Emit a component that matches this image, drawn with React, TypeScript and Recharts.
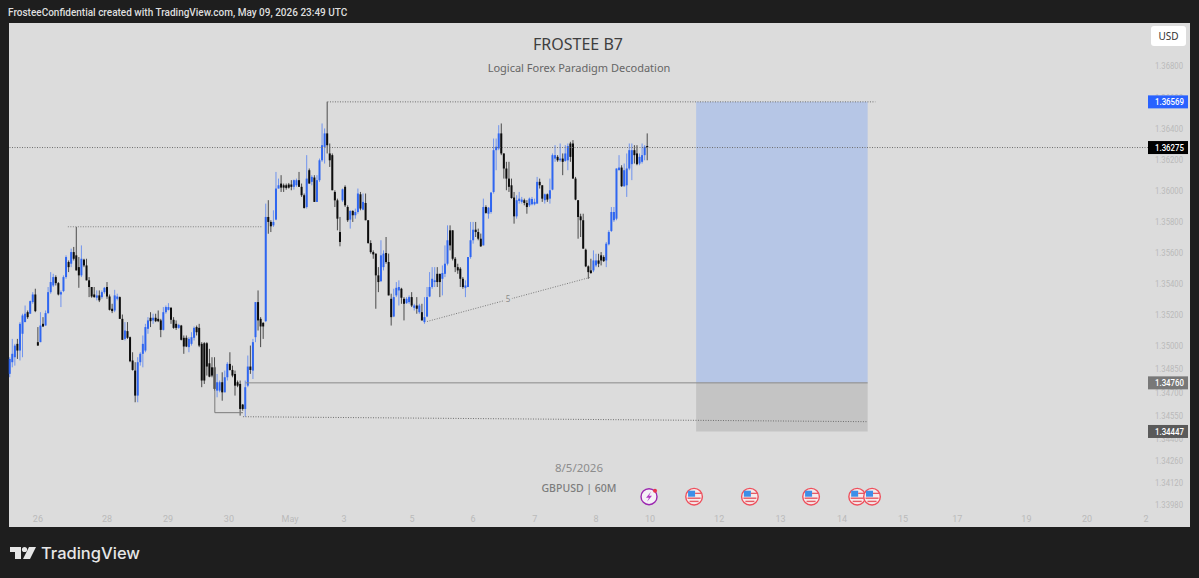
import React from "react";
import {
  ComposedChart,
  Bar,
  XAxis,
  YAxis,
  ReferenceArea,
  ReferenceLine,
  ReferenceDot,
} from "recharts";

const opens = [
  1.34818,1.34893,1.34925,1.35011,1.34968,1.35076,1.35151,1.35215,1.35205,1.3528,
  1.35329,1.35022,1.35022,1.3514,1.35129,1.35209,1.35344,1.35387,1.35441,1.35402,
  1.35329,1.35351,1.35441,1.35538,1.35527,1.35602,1.35581,1.35505,1.35452,1.35553,
  1.35516,1.3542,1.35377,1.35329,1.35308,1.35323,1.35312,1.35344,1.35377,1.35316,
  1.35237,1.35226,1.35301,1.35312,1.35172,1.35043,1.35093,1.35054,1.34904,1.34839,
  1.34678,1.34893,1.34947,1.34968,1.35108,1.35179,1.35162,1.35179,1.35172,1.35162,
  1.35101,1.35215,1.3523,1.35243,1.35166,1.3514,1.35114,1.35129,1.3505,1.3505,
  1.3499,1.35011,1.3505,1.35119,1.35114,1.35011,1.35015,1.35015,1.34886,1.3486,
  1.3486,1.3471,1.3471,1.34764,1.34699,1.34796,1.34882,1.34843,1.34817,1.34764,
  1.34753,1.3462,1.34592,1.34742,1.34865,1.34839,1.35054,1.3528,1.35172,1.35146,
  1.35157,1.35828,1.35796,1.35774,1.35811,1.36011,1.36043,1.36032,1.36032,1.36037,
  1.36037,1.36022,1.36032,1.36065,1.36022,1.35968,1.35892,1.36129,1.36054,1.36082,
  1.35925,1.36065,1.36193,1.36279,1.36366,1.36237,1.36226,1.35989,1.35935,1.35731,
  1.35935,1.36022,1.35892,1.35811,1.35867,1.35839,1.3586,1.35974,1.35875,1.35918,
  1.35807,1.3566,1.35602,1.35592,1.35452,1.35415,1.35505,1.35596,1.35538,1.35301,
  1.35187,1.35323,1.35355,1.35366,1.35301,1.35273,1.3528,1.35312,1.35243,1.35258,
  1.35215,1.35215,1.35151,1.35187,1.35316,1.35377,1.35409,1.35462,1.35462,1.3543,
  1.35462,1.35527,1.35742,1.35742,1.35559,1.35505,1.35495,1.3543,1.35372,1.35377,
  1.3557,1.35678,1.35746,1.35731,1.35688,1.35645,1.35892,1.35849,1.3586,1.35989,
  1.36258,1.36269,1.36366,1.36237,1.3614,1.36075,1.36032,1.35953,1.35832,1.35931,
  1.35925,1.35936,1.35918,1.35903,1.3591,1.3591,1.35914,1.36054,1.36032,1.35936,
  1.35974,1.35946,1.36004,1.36204,1.36215,1.36193,1.36204,1.36189,1.36193,1.36301,
  1.36301,1.36075,1.35936,1.35832,1.35807,1.35617,1.3551,1.35484,1.35484,1.35516,
  1.35548,1.35581,1.3557,1.35548,1.35652,1.35738,1.35807,1.35817,1.36129,1.36146,
  1.36026,1.36032,1.3614,1.36168,1.36258,1.36237,1.36172,1.36183,1.36226,1.36285,
];

const highs = [
  1.34925,1.35043,1.35011,1.35043,1.35151,1.35205,1.35258,1.35226,1.3529,1.35344,
  1.35366,1.35119,1.35215,1.35183,1.35226,1.35377,1.35473,1.35462,1.35452,1.35409,
  1.35355,1.35452,1.35581,1.35548,1.35624,1.35635,1.35764,1.3557,1.35645,1.35559,
  1.35559,1.35441,1.35377,1.35377,1.35355,1.35355,1.35355,1.35377,1.35409,1.35329,
  1.35269,1.35359,1.35334,1.35316,1.352,1.35151,1.35151,1.35058,1.34957,1.34893,
  1.34925,1.34957,1.35065,1.3514,1.35183,1.35215,1.35205,1.35205,1.35226,1.35172,
  1.35248,1.35258,1.35273,1.35248,1.35183,1.35162,1.3514,1.35133,1.35065,1.35065,
  1.35054,1.35086,1.35123,1.35129,1.3514,1.35022,1.35022,1.35022,1.34979,1.34925,
  1.34925,1.34817,1.34775,1.34828,1.34839,1.34893,1.34957,1.34871,1.34839,1.34775,
  1.34775,1.34624,1.34775,1.34936,1.35,1.35043,1.3528,1.35355,1.35183,1.35151,
  1.35914,1.35936,1.35807,1.35871,1.36118,1.36075,1.36097,1.36043,1.36043,1.36047,
  1.36065,1.36069,1.36075,1.36118,1.36043,1.35979,1.36226,1.3614,1.36097,1.36097,
  1.36097,1.36204,1.3643,1.36398,1.3657,1.36301,1.36237,1.36,1.35946,1.35828,
  1.36011,1.36032,1.35903,1.35871,1.35871,1.35882,1.36011,1.35989,1.35979,1.35979,
  1.35807,1.35678,1.35613,1.35592,1.35505,1.35678,1.35613,1.35699,1.35592,1.35334,
  1.35366,1.35409,1.3542,1.35372,1.35312,1.35312,1.35323,1.35344,1.35269,1.35312,
  1.35269,1.35269,1.35312,1.35377,1.35473,1.35505,1.35505,1.35505,1.35462,1.35516,
  1.35645,1.35774,1.35774,1.35742,1.3557,1.35527,1.35505,1.35441,1.3542,1.3557,
  1.35796,1.35796,1.35796,1.35753,1.35721,1.35946,1.35903,1.35892,1.35989,1.36333,
  1.36333,1.36419,1.3643,1.36237,1.36183,1.36183,1.36075,1.35989,1.35968,1.35989,
  1.35957,1.35946,1.35936,1.35953,1.35957,1.35946,1.36086,1.36075,1.36032,1.35979,
  1.35979,1.36075,1.36237,1.3629,1.36226,1.36301,1.36237,1.3629,1.36301,1.36312,
  1.36323,1.36086,1.35936,1.35849,1.35849,1.35624,1.35516,1.35559,1.35613,1.35591,
  1.35591,1.35602,1.35581,1.35667,1.35742,1.35892,1.35892,1.3614,1.36226,1.36161,
  1.36172,1.36237,1.36301,1.36301,1.3629,1.3629,1.36237,1.36301,1.3629,1.36366,
];

const lows = [
  1.34796,1.3486,1.34871,1.34914,1.34904,1.34925,1.35151,1.35172,1.35205,1.35269,
  1.35215,1.34999,1.35022,1.35119,1.35129,1.35205,1.35334,1.35377,1.35387,1.35323,
  1.35248,1.35344,1.3543,1.35473,1.35505,1.35548,1.35484,1.35372,1.35441,1.35505,
  1.3542,1.35312,1.35308,1.35308,1.35291,1.3528,1.35301,1.35334,1.35301,1.35226,
  1.35209,1.35215,1.35291,1.35172,1.35037,1.35033,1.35043,1.34893,1.34839,1.34635,
  1.34635,1.34871,1.3486,1.34957,1.35076,1.35119,1.3514,1.35151,1.35151,1.35054,
  1.35097,1.35205,1.35226,1.3514,1.35108,1.35101,1.35108,1.35033,1.34947,1.3499,
  1.34957,1.35,1.35033,1.35065,1.3499,1.34732,1.34753,1.34807,1.34796,1.34796,
  1.3471,1.34667,1.34699,1.34645,1.34699,1.34775,1.34839,1.34796,1.34678,1.34732,
  1.34549,1.34581,1.34542,1.34732,1.34818,1.34785,1.35022,1.35097,1.3499,1.35043,
  1.35151,1.3572,1.35731,1.35764,1.35807,1.36011,1.35989,1.35989,1.36004,1.36011,
  1.36,1.36004,1.36022,1.36022,1.35957,1.35882,1.35882,1.36043,1.36032,1.35925,
  1.35925,1.36054,1.36183,1.36172,1.36237,1.3615,1.36,1.35892,1.35742,1.35639,
  1.35925,1.35892,1.35796,1.35753,1.35796,1.35817,1.35849,1.35871,1.35871,1.35807,
  1.35656,1.35592,1.35559,1.35237,1.35344,1.35409,1.35484,1.35527,1.35323,1.35129,
  1.35183,1.35312,1.35258,1.35269,1.35162,1.35269,1.35269,1.35248,1.35226,1.35205,
  1.35205,1.35162,1.3514,1.35183,1.35312,1.35366,1.35377,1.35377,1.35312,1.35323,
  1.35441,1.35516,1.35613,1.35548,1.35473,1.35462,1.35377,1.35366,1.35312,1.35377,
  1.35559,1.35656,1.35699,1.35678,1.35635,1.35645,1.35849,1.35817,1.35849,1.35979,
  1.36129,1.36258,1.36226,1.36075,1.36,1.35989,1.35946,1.35785,1.35817,1.35914,
  1.35914,1.35903,1.35849,1.35892,1.35903,1.35903,1.35914,1.36011,1.35925,1.35914,
  1.35925,1.35914,1.36,1.36183,1.36183,1.36183,1.36097,1.36183,1.36129,1.36183,
  1.36075,1.35936,1.35688,1.35699,1.35624,1.35505,1.3543,1.35462,1.35473,1.35505,
  1.35505,1.35516,1.35538,1.35505,1.35645,1.35731,1.35796,1.35807,1.36129,1.36022,
  1.36022,1.35957,1.36129,1.36065,1.36172,1.36161,1.36161,1.36172,1.36193,1.36193,
];

const closes = [
  1.34914,1.34947,1.35,1.34968,1.3514,1.35194,1.35205,1.35183,1.35286,1.35329,
  1.35222,1.35,1.35129,1.35123,1.35209,1.35344,1.35409,1.35441,1.35402,1.35329,
  1.35344,1.35441,1.3557,1.35505,1.35602,1.35559,1.35484,1.35452,1.35559,1.35516,
  1.3542,1.35377,1.35316,1.35312,1.35323,1.35291,1.35344,1.35372,1.35316,1.3523,
  1.35222,1.35323,1.35316,1.35172,1.35037,1.35097,1.3505,1.34899,1.34843,1.34678,
  1.34893,1.34947,1.35011,1.35119,1.35162,1.35157,1.35179,1.35157,1.35157,1.35101,
  1.35215,1.35248,1.35248,1.35166,1.35114,1.35114,1.35133,1.35037,1.34994,1.34994,
  1.35043,1.35054,1.35114,1.35086,1.35,1.34775,1.34775,1.34865,1.348,1.34807,
  1.34721,1.34764,1.34764,1.34699,1.34796,1.34882,1.34843,1.34807,1.34742,1.34742,
  1.34592,1.34592,1.34732,1.34865,1.34843,1.35022,1.3528,1.35162,1.35123,1.35123,
  1.35828,1.35796,1.35768,1.35796,1.36011,1.36032,1.36017,1.36017,1.36015,1.36017,
  1.36022,1.36065,1.36065,1.36022,1.35968,1.35886,1.36075,1.36043,1.36086,1.35925,
  1.36065,1.36193,1.3629,1.36366,1.3629,1.36193,1.36,1.35935,1.35817,1.35667,
  1.36006,1.35903,1.35807,1.35867,1.35839,1.3586,1.35979,1.35882,1.35925,1.35807,
  1.3566,1.35602,1.35587,1.35452,1.35409,1.35581,1.35592,1.35538,1.35323,1.35183,
  1.35312,1.35372,1.35377,1.35308,1.35269,1.35301,1.35312,1.35258,1.35258,1.35237,
  1.35258,1.35162,1.35183,1.35312,1.35377,1.3543,1.3542,1.35409,1.35409,1.35467,
  1.35527,1.35678,1.35645,1.35559,1.35505,1.35484,1.3543,1.35377,1.35387,1.3557,
  1.35678,1.35746,1.35731,1.35688,1.35639,1.35892,1.35854,1.35888,1.35985,1.36258,
  1.3628,1.36366,1.36237,1.3614,1.36075,1.36022,1.3595,1.35832,1.35936,1.35946,
  1.3594,1.35918,1.35892,1.35946,1.35944,1.35925,1.36054,1.36032,1.35946,1.35974,
  1.3594,1.36,1.36226,1.36226,1.36193,1.36204,1.36183,1.36237,1.36284,1.36215,
  1.36075,1.3594,1.35828,1.35807,1.35624,1.3551,1.35473,1.35467,1.35548,1.35548,
  1.35527,1.35548,1.35544,1.35656,1.35731,1.3586,1.3586,1.3614,1.36146,1.36026,
  1.36129,1.3614,1.36258,1.36258,1.36226,1.36168,1.36215,1.36226,1.3628,1.36275,
];

// hour index of each date label on the time axis
const dayTicks = [10.9, 37.9, 61.7, 85.5, 109.4, 130.5, 157, 180.9, 205, 228.9, 250, 277, 301, 325, 348.8, 370, 397, 420.7, 443.7];
const dayLabels = ["26", "28", "29", "30", "May", "3", "5", "6", "7", "8", "10", "12", "13", "14", "15", "17", "19", "20", "2"];

const priceTicks = [
  1.368, 1.366, 1.364, 1.362, 1.36, 1.358, 1.356, 1.354, 1.352, 1.35, 1.3485, 1.347, 1.3455, 1.344, 1.3426, 1.3412, 1.3398,
];

const lastPrice = 1.36275;
const targetPrice = 1.36569;
const entryPrice = 1.3476;
const stopPrice = 1.34447;
const priceTags: Record<string, string> = {
  "1.36569": "#2962ff",
  "1.36275": "#000000",
  "1.3476": "#787878",
  "1.34447": "#5a5a5a",
};

// economic calendar events along the bottom
const eventHours = [267.2, 289, 312.9, 330.9, 336.7];
const alertHour = 249.6;
const eventPrice = 1.34027;

const rows = opens.map((open, i) => ({
  hour: i,
  open,
  high: highs[i],
  low: lows[i],
  close: closes[i],
}));

const UI_FONT = "'Noto Sans', 'Open Sans', sans-serif";
const AXIS_FONT = "Roboto, 'Noto Sans', sans-serif";

function Candle({ x, y, width, height, payload }: any) {
  const { open, close, high, low } = payload;
  const perPrice = height / (high - low);
  const up = close >= open;
  const top = y + (high - Math.max(open, close)) * perPrice;
  const bodyH = Math.max(Math.abs(close - open) * perPrice, 1);
  const mid = x + width / 2;
  return (
    <g>
      <line x1={mid} x2={mid} y1={y} y2={y + height} stroke={up ? "#6f93ee" : "#4a4a4a"} strokeWidth={1} />
      <rect x={mid - 1} y={top} width={2} height={bodyH} fill={up ? "#2f66f0" : "#0c0c0c"} />
    </g>
  );
}

function PriceTick({ x, y, payload }: any) {
  const tag = priceTags[String(payload.value)];
  if (tag) {
    return (
      <g>
        <rect x={x} y={y - 6.5} width={40} height={13} fill={tag} />
        <text
          x={x + 7}
          y={y + 3.2}
          fontSize={9}
          fontFamily={AXIS_FONT}
          fontWeight={500}
          fill="#ffffff"
          textLength={29}
          lengthAdjust="spacingAndGlyphs"
        >
          {payload.value.toFixed(5)}
        </text>
      </g>
    );
  }
  return (
    <text
      x={x + 7}
      y={y + 3.5}
      fontSize={9}
      fontFamily={AXIS_FONT}
      fill="#bababa"
      textLength={28}
      lengthAdjust="spacingAndGlyphs"
    >
      {payload.value.toFixed(5)}
    </text>
  );
}

function FlagEvent({ cx, cy }: any) {
  return (
    <g>
      <circle cx={cx} cy={cy} r={8.3} fill="#f6eaea" stroke="#ee4f5c" strokeWidth={1.4} />
      <rect x={cx - 6} y={cy - 6} width={7} height={6} fill="#3d8fe8" />
      <rect x={cx + 1} y={cy - 4} width={6} height={1.3} fill="#e55b65" />
      <rect x={cx - 6.5} y={cy + 0.8} width={13} height={1.4} fill="#e55b65" />
      <rect x={cx - 4.5} y={cy + 4} width={9} height={1.4} fill="#e55b65" />
    </g>
  );
}

function AlertEvent({ cx, cy }: any) {
  return (
    <g>
      <circle cx={cx} cy={cy} r={8} fill="#f4f0f6" stroke="#9c27b0" strokeWidth={1.4} />
      <path
        d={`M${cx + 2} ${cy - 5} L${cx - 3} ${cy + 1} L${cx} ${cy + 1} L${cx - 2} ${cy + 5} L${cx + 3} ${cy - 1} L${cx} ${cy - 1} Z`}
        fill="#b03ac4"
      />
      <circle cx={cx + 6} cy={cy - 6} r={2} fill="#e8344a" />
    </g>
  );
}

function SlopeLabel({ cx, cy }: any) {
  return (
    <g>
      <circle cx={cx} cy={cy} r={4} fill="#dcdcdc" />
      <text x={cx} y={cy + 3} textAnchor="middle" fontSize={8} fontFamily={UI_FONT} fill="#8a8a8a">
        5
      </text>
    </g>
  );
}

function overlayText(left: number, top: number, size: number, color: string, weight = 400) {
  return {
    position: "absolute" as const,
    left,
    top,
    width: 300,
    marginLeft: -150,
    textAlign: "center" as const,
    fontFamily: UI_FONT,
    fontSize: size,
    color,
    fontWeight: weight,
    lineHeight: "18px",
  };
}

const dotted = "1 1.5";

export default function App() {
  return (
    <div style={{ position: "absolute", left: 0, top: 0, width: 1199, height: 578, background: "#1e1e1e", overflow: "hidden" }}>
      <div
        style={{
          position: "absolute", left: 8, top: 5, fontFamily: AXIS_FONT, fontSize: 10,
          color: "#dedede", fontWeight: 500, whiteSpace: "nowrap", lineHeight: "16px",
        }}
      >
        FrosteeConfidential created with TradingView.com, May 09, 2026 23:49 UTC
      </div>

      <div style={{ position: "absolute", left: 9, top: 23, width: 1181, height: 504, background: "#dcdcdc" }} />

      <div style={{ position: "absolute", left: 0, top: 0 }}>
        <ComposedChart
          width={1199}
          height={578}
          data={rows}
          margin={{ top: 23, right: 9, bottom: 51, left: 9 }}
        >
          <XAxis
            dataKey="hour"
            type="number"
            domain={[-0.39, 444.5]}
            ticks={dayTicks}
            interval={0}
            tickFormatter={(v: number) => dayLabels[dayTicks.indexOf(v)]}
            axisLine={false}
            tickLine={false}
            tickSize={0}
            height={17}
            tickMargin={6}
            tick={{ fill: "#bababa", fontSize: 9, fontFamily: AXIS_FONT }}
          />
          <YAxis
            orientation="right"
            type="number"
            domain={[1.339414, 1.370768]}
            ticks={[...priceTicks, entryPrice, stopPrice, lastPrice, targetPrice]}
            interval={0}
            width={42}
            axisLine={false}
            tickLine={false}
            tickSize={0}
            tickMargin={0}
            tick={<PriceTick />}
          />

          <ReferenceArea x1={268} x2={335} y1={targetPrice} y2={entryPrice} fill="#b6c6e6" fillOpacity={1} stroke="none" />
          <ReferenceArea x1={268} x2={335} y1={entryPrice} y2={stopPrice} fill="#c4c4c4" fillOpacity={1} stroke="none" />

          <ReferenceLine y={lastPrice} stroke="#6e6e6e" strokeDasharray={dotted} />
          <ReferenceLine segment={[{ x: 124, y: targetPrice }, { x: 338, y: targetPrice }]} stroke="#6e6e6e" strokeDasharray={dotted} />
          <ReferenceLine segment={[{ x: 22.6, y: 1.35765 }, { x: 98.4, y: 1.35765 }]} stroke="#808080" strokeDasharray={dotted} />
          <ReferenceLine segment={[{ x: 92, y: entryPrice }, { x: 335, y: entryPrice }]} stroke="#8a8a8a" />
          <ReferenceLine segment={[{ x: 80, y: 1.34568 }, { x: 91, y: 1.34568 }]} stroke="#7a7a7a" />
          <ReferenceLine segment={[{ x: 80, y: 1.34568 }, { x: 80, y: 1.34866 }]} stroke="#7a7a7a" />
          <ReferenceLine segment={[{ x: 91, y: 1.34542 }, { x: 335, y: 1.3451 }]} stroke="#6e6e6e" strokeDasharray={dotted} />
          <ReferenceLine segment={[{ x: 162.9, y: 1.35155 }, { x: 226.6, y: 1.35439 }]} stroke="#7a7a7a" strokeDasharray={dotted} />

          <Bar
            dataKey={(row: any) => [row.low, row.high]}
            barSize={2}
            isAnimationActive={false}
            shape={<Candle />}
          />

          <ReferenceDot x={194.5} y={1.35297} r={4} shape={<SlopeLabel />} />
          {eventHours.map((h) => (
            <ReferenceDot key={h} x={h} y={eventPrice} r={8} shape={<FlagEvent />} />
          ))}
          <ReferenceDot x={alertHour} y={eventPrice} r={8} shape={<AlertEvent />} />
        </ComposedChart>
      </div>

      <div style={overlayText(578, 35, 16, "#3f3f3f")}>FROSTEE B7</div>
      <div style={overlayText(579, 59, 11, "#666666")}>Logical Forex Paradigm Decodation</div>
      <div style={overlayText(579, 459, 11.5, "#8c8c8c")}>8/5/2026</div>
      <div style={overlayText(579, 479, 10.5, "#7c7c7c", 500)}>GBPUSD | 60M</div>

      <div
        style={{
          position: "absolute", left: 1151, top: 26, width: 35, height: 20, borderRadius: 3,
          background: "#ffffff", color: "#333333", fontFamily: UI_FONT, fontSize: 10,
          lineHeight: "20px", textAlign: "center",
        }}
      >
        USD
      </div>

      <svg style={{ position: "absolute", left: 10, top: 546 }} width={28} height={15}>
        <path d="M0 1 H11 V13 H5 V6 H0 Z" fill="#e6e6e6" />
        <circle cx={14.5} cy={3.5} r={2.6} fill="#e6e6e6" />
        <path d="M19 1 H26 L20 13 H13 Z" fill="#e6e6e6" />
      </svg>
      <div
        style={{
          position: "absolute", left: 41, top: 541, fontFamily: "Inter, 'Noto Sans', sans-serif",
          fontSize: 16.5, fontWeight: 500, color: "#e6e6e6", lineHeight: "24px",
        }}
      >
        TradingView
      </div>
    </div>
  );
}
